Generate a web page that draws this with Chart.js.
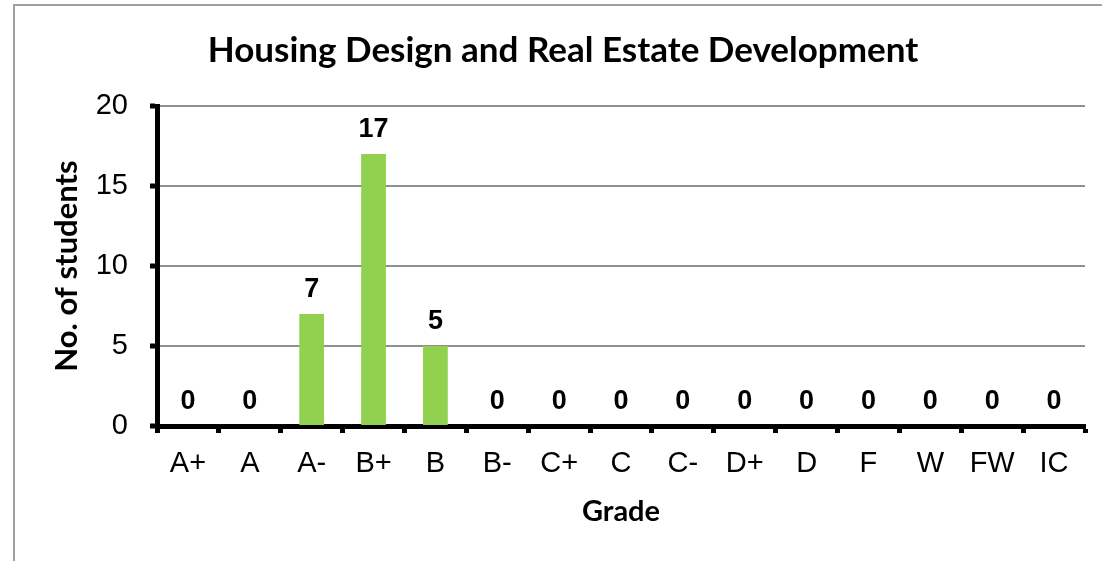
<!DOCTYPE html>
<html>
<head>
<meta charset="utf-8">
<script src="https://cdn.jsdelivr.net/npm/chart.js@4/dist/chart.umd.min.js"></script>
<style>
  html, body { margin: 0; padding: 0; background: #ffffff; }
  #wrap { width: 1102px; height: 561px; position: relative; }
</style>
</head>
<body>
<div id="wrap"><canvas id="c" width="1102" height="561"></canvas></div>
<script>
const chartTitle = "Housing Design and Real Estate Development";
const xAxisTitle = "Grade";
const yAxisTitle = "No. of students";
const grades = ["A+", "A", "A-", "B+", "B", "B-", "C+", "C", "C-", "D+", "D", "F", "W", "FW", "IC"];
const students = [0, 0, 7, 17, 5, 0, 0, 0, 0, 0, 0, 0, 0, 0, 0];
const yTicks = [0, 5, 10, 15, 20];

const frame = {
  id: 'frame',
  beforeDraw(chart) {
    const ctx = chart.ctx;
    ctx.save();
    ctx.fillStyle = '#ffffff';
    ctx.fillRect(0, 0, chart.width, chart.height);
    ctx.strokeStyle = '#a0a0a0';
    ctx.lineWidth = 2;
    ctx.strokeRect(14, 5, chart.width + 20, chart.height + 20);
    ctx.restore();
  }
};

const valueLabels = {
  id: 'valueLabels',
  afterDatasetsDraw(chart) {
    const ctx = chart.ctx;
    const meta = chart.getDatasetMeta(0);
    ctx.save();
    ctx.fillStyle = '#000000';
    ctx.font = 'bold 27px "Liberation Sans", Arial, sans-serif';
    ctx.textAlign = 'center';
    ctx.textBaseline = 'alphabetic';
    meta.data.forEach((bar, i) => {
      ctx.fillText(String(students[i]), bar.x, bar.y - 17);
    });
    ctx.restore();
  }
};

new Chart(document.getElementById('c'), {
  type: 'bar',
  data: {
    labels: grades,
    datasets: [{
      data: students,
      backgroundColor: '#92D050',
      borderWidth: 0,
      barPercentage: 0.4,
      categoryPercentage: 1.0
    }]
  },
  options: {
    responsive: false,
    animation: false,
    devicePixelRatio: 1,
    layout: { padding: { left: 41, right: 17, top: 0, bottom: 0 } },
    plugins: {
      legend: { display: false },
      tooltip: { enabled: false },
      title: {
        display: true,
        text: chartTitle,
        color: '#000000',
        font: { family: 'Lato', weight: 'bold', size: 35, lineHeight: 1.2 },
        padding: { top: 30, bottom: 34 }
      }
    },
    scales: {
      x: {
        type: 'category',
        afterFit(scale) { scale.height = 135; },
        grid: {
          offset: true,
          drawOnChartArea: false,
          drawTicks: true,
          tickColor: '#000000',
          tickWidth: 5,
          tickLength: 7
        },
        border: { display: true, color: '#000000', width: 5 },
        ticks: {
          color: '#000000',
          font: { family: '"Liberation Sans", Arial, sans-serif', size: 29 },
          padding: 14,
          maxRotation: 0,
          autoSkip: false
        },
        title: {
          display: true,
          text: xAxisTitle,
          color: '#000000',
          font: { family: 'Lato', weight: 'bold', size: 29, lineHeight: 1.2 },
          padding: { top: 4, bottom: 32 }
        }
      },
      y: {
        min: 0,
        max: 20,
        afterFit(scale) { scale.width = 116; },
        afterBuildTicks(scale) { scale.ticks = yTicks.map(v => ({ value: v })); },
        grid: {
          color: '#8f8f8f',
          lineWidth: 2,
          drawTicks: true,
          tickColor: '#000000',
          tickWidth: 5,
          tickLength: 7
        },
        border: { display: true, color: '#000000', width: 5 },
        ticks: {
          color: '#000000',
          font: { family: '"Liberation Sans", Arial, sans-serif', size: 29 },
          padding: 22
        },
        title: {
          display: true,
          text: yAxisTitle,
          color: '#000000',
          font: { family: 'Lato', weight: 'bold', size: 31, lineHeight: 1.2 },
          padding: { top: 7, bottom: 4 }
        }
      }
    }
  },
  plugins: [frame, valueLabels]
});
</script>
</body>
</html>
